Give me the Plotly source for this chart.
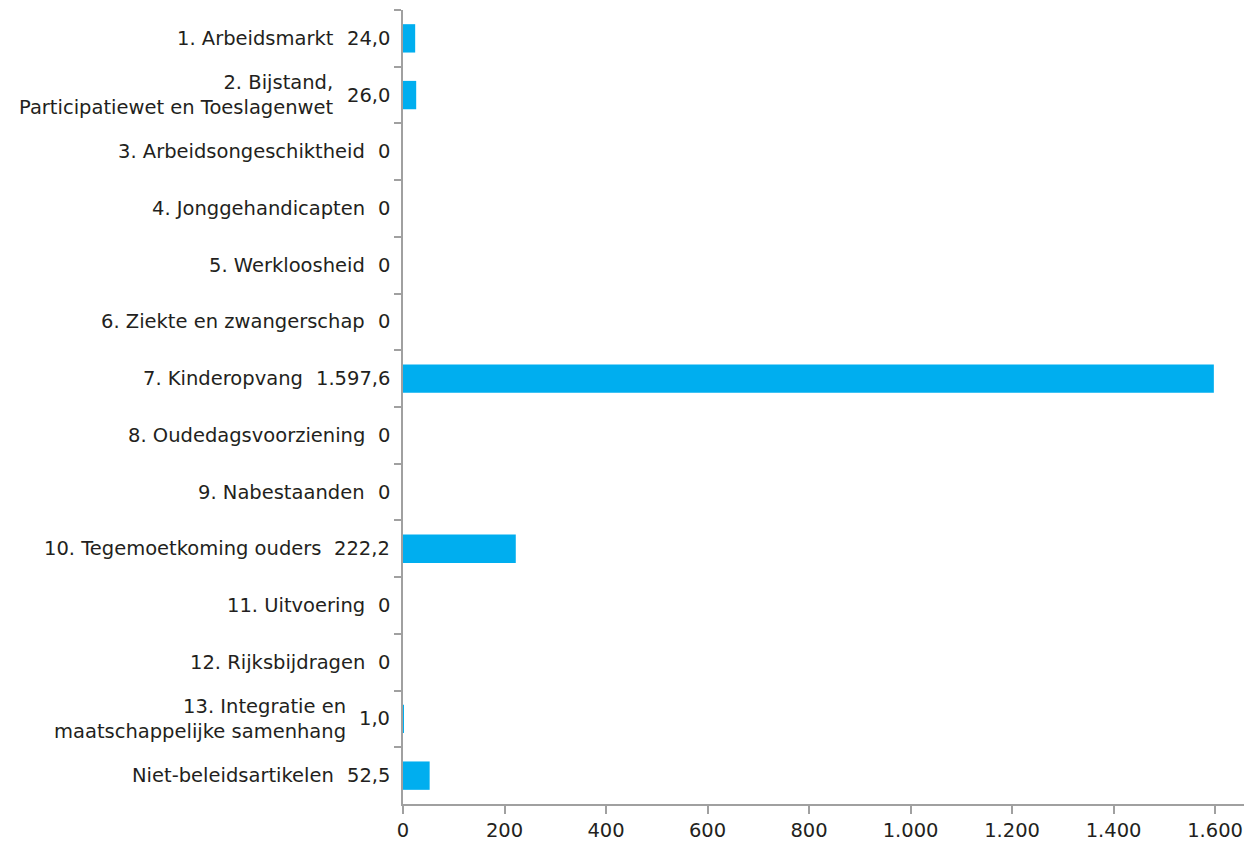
import plotly.graph_objects as go

categories = [
    "1. Arbeidsmarkt",
    "2. Bijstand,\nParticipatiewet en Toeslagenwet",
    "3. Arbeidsongeschiktheid",
    "4. Jonggehandicapten",
    "5. Werkloosheid",
    "6. Ziekte en zwangerschap",
    "7. Kinderopvang",
    "8. Oudedagsvoorziening",
    "9. Nabestaanden",
    "10. Tegemoetkoming ouders",
    "11. Uitvoering",
    "12. Rijksbijdragen",
    "13. Integratie en\nmaatschappelijke samenhang",
    "Niet-beleidsartikelen",
]
values = [24.0, 26.0, 0, 0, 0, 0, 1597.6, 0, 0, 222.2, 0, 0, 1.0, 52.5]
x_ticks = [0, 200, 400, 600, 800, 1000, 1200, 1400, 1600]

FONT = "DejaVu Sans"
FS = 19.5
TXT = "#231f20"
BAR = "#00aeef"
AX = "#a0a0a0"


def fmt(v):
    if v == 0:
        return "0"
    s = f"{v:,.1f}"
    return s.replace(",", "X").replace(".", ",").replace("X", ".")


CW = {"0": 0.636, "1": 0.636, "2": 0.636, "3": 0.636, "4": 0.636, "5": 0.636,
      "6": 0.636, "7": 0.636, "8": 0.636, "9": 0.636, ",": 0.318, ".": 0.318}

ids = [f"c{i}" for i in range(len(categories))]

fig = go.Figure()
fig.add_trace(go.Bar(
    x=values, y=ids, orientation="h", marker=dict(color=BAR, line=dict(width=0)),
    width=0.5, hoverinfo="skip",
))

annotations = []
for cid, name, v in zip(ids, categories, values):
    vt = fmt(v)
    annotations.append(dict(
        x=0, y=cid, xref="x", yref="y", text=vt, showarrow=False,
        xanchor="right", yanchor="middle", xshift=-11,
        font=dict(family=FONT, size=FS, color=TXT),
    ))
    vw = sum(CW.get(ch, 0.6) for ch in vt) * FS
    annotations.append(dict(
        x=0, y=cid, xref="x", yref="y", text=name.replace("\n", "<br>"),
        showarrow=False, align="right",
        xanchor="right", yanchor="middle", xshift=-(11 + vw + 13),
        font=dict(family=FONT, size=FS, color=TXT),
    ))

# page body has an 8px margin, so the figure is sized to fit the window
fig.update_layout(
    width=1247, height=835,
    margin=dict(l=395, r=11, t=2, b=39, autoexpand=False),
    paper_bgcolor="white", plot_bgcolor="white",
    separators=",.",
    showlegend=False,
    annotations=annotations,
    font=dict(family=FONT, size=FS, color=TXT),
)
fig.update_xaxes(
    range=[0, 1657], tickvals=x_ticks, tickformat=",d", automargin=False,
    showgrid=False, zeroline=False,
    showline=True, linecolor=AX, linewidth=1.5,
    ticks="outside", ticklen=8, tickcolor=AX, tickwidth=1.5,
    tickfont=dict(family=FONT, size=FS, color=TXT),
)
fig.update_yaxes(
    type="category", categoryorder="array", categoryarray=ids, automargin=False,
    autorange="reversed", showticklabels=False, showgrid=False, zeroline=False,
    showline=True, linecolor=AX, linewidth=1.5,
    ticks="outside", tickson="boundaries", ticklen=7, tickcolor=AX, tickwidth=1.5,
)

fig.write_html("out.html")
